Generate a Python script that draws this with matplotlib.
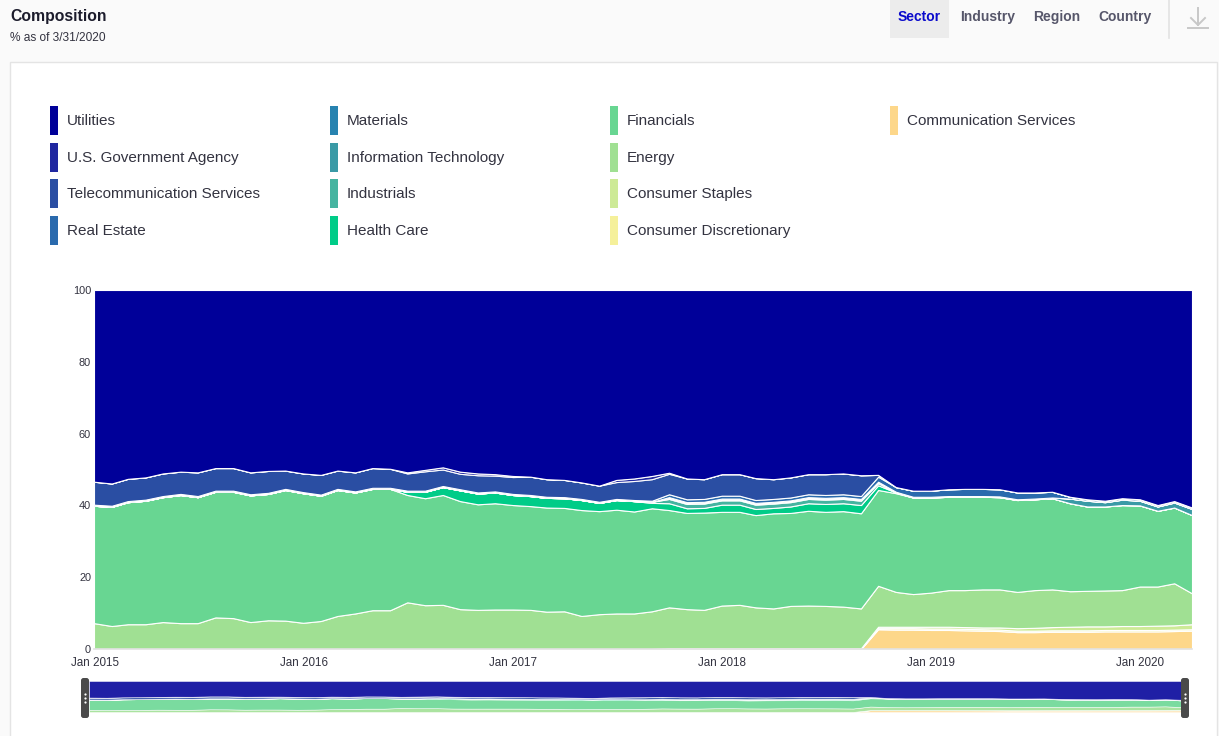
import matplotlib
matplotlib.use("Agg")
import matplotlib.pyplot as plt
from matplotlib.patches import Rectangle, FancyBboxPatch
import pandas as pd

W, H = 1219, 736
plt.rcParams['font.family'] = ['Liberation Sans', 'DejaVu Sans']
NARROW = ['Liberation Sans Narrow', 'Liberation Sans', 'DejaVu Sans']

# month-end points, 12/31/2014 .. 3/31/2020
dates = pd.date_range("2014-12-31", periods=64, freq="ME")

utilities = [
    53.4, 53.9, 52.6, 52.2, 51.1, 50.6, 50.8, 49.6, 49.6, 50.8, 50.4, 50.3,
    51.1, 51.5, 50.3, 50.8, 49.6, 49.8, 50.8, 50.1, 49.4, 50.6, 51.1, 51.3,
    51.8, 52.0, 52.7, 52.9, 53.6, 54.5, 52.9, 52.5, 51.8, 50.9, 52.5, 52.7,
    51.3, 51.3, 52.4, 52.7, 52.2, 51.3, 51.3, 51.1, 51.6, 51.5, 54.9, 55.9,
    55.9, 55.5, 55.4, 55.4, 55.5, 56.4, 56.4, 56.2, 57.6, 58.3, 58.7, 58.0,
    58.3, 59.9, 58.8, 60.6]
gov_agency = [
    0, 0, 0, 0, 0, 0, 0, 0, 0, 0, 0, 0,
    0, 0, 0, 0, 0, 0, 0.3, 0.4, 0.6, 0.6, 0.5, 0.4,
    0.3, 0, 0, 0, 0, 0, 0.6, 0.7, 0.9, 0.3, 0, 0,
    0, 0, 0, 0, 0, 0, 0, 0, 0, 0, 0, 0,
    0, 0, 0, 0, 0, 0, 0, 0, 0, 0, 0, 0,
    0, 0, 0, 0]
telecom = [
    6.4, 6.2, 6.2, 6.2, 6.3, 6.2, 6.6, 6.3, 6.3, 6.1, 6.1, 5.1,
    5.2, 5.5, 5.1, 5.3, 5.5, 5.3, 4.8, 5.4, 4.6, 4.3, 4.8, 4.4,
    4.7, 5.1, 4.9, 4.8, 4.6, 4.5, 4.7, 5.3, 6.0, 5.7, 5.8, 5.5,
    6.0, 6.0, 6.1, 5.5, 5.6, 5.6, 5.8, 5.8, 5.8, 0.5, 0, 0,
    0, 0, 0, 0, 0, 0, 0, 0, 0, 0, 0, 0,
    0, 0, 0, 0]
real_estate = [
    0.3, 0.3, 0.3, 0.3, 0.3, 0.3, 0.3, 0.3, 0.3, 0.3, 0.3, 0.3,
    0.3, 0.3, 0.3, 0.3, 0.3, 0.3, 0.3, 0.3, 0.3, 0.3, 0.3, 0.3,
    0.3, 0.3, 0.3, 0.3, 0.3, 0.3, 0.3, 0.3, 0.3, 0.8, 0.8, 0.8,
    0.8, 0.8, 0.8, 0.8, 0.8, 0.8, 0.8, 0.8, 0.8, 1.4, 1.3, 1.7,
    1.7, 1.9, 2.0, 2.0, 2.0, 1.9, 1.7, 1.6, 0.5, 0.4, 0.4, 0.4,
    0.4, 0.4, 0.4, 0.4]
materials = [
    0, 0, 0, 0, 0, 0, 0, 0, 0, 0, 0, 0,
    0, 0, 0, 0, 0, 0, 0, 0, 0, 0, 0, 0,
    0, 0, 0, 0, 0, 0, 0, 0, 0, 0.2, 0.2, 0.2,
    0.2, 0.2, 0.2, 0.2, 0.2, 0.2, 0.2, 0.2, 0.2, 0, 0, 0,
    0, 0, 0, 0, 0, 0, 0, 0, 0, 0, 0, 0,
    0, 0, 0, 0]
info_tech = [
    0, 0, 0, 0, 0, 0, 0, 0, 0, 0, 0, 0,
    0, 0, 0, 0, 0, 0, 0, 0, 0, 0, 0, 0,
    0, 0, 0, 0, 0, 0, 0, 0, 0, 0.3, 0.3, 0.3,
    0.3, 0.3, 0.3, 0.3, 0.3, 0.3, 0.3, 0.3, 0.3, 0.4, 0.2, 0.2,
    0.2, 0.2, 0.2, 0.2, 0.2, 0.2, 0.2, 0.2, 1.3, 1.6, 1.2, 1.5,
    1.3, 1.2, 1.4, 1.7]
industrials = [
    0, 0, 0, 0, 0, 0, 0, 0, 0, 0, 0, 0,
    0, 0, 0, 0, 0, 0, 0, 0, 0, 0, 0, 0,
    0, 0, 0, 0, 0, 0, 0, 0, 0.3, 1.2, 1.2, 1.2,
    1.2, 1.2, 1.2, 1.2, 1.2, 1.2, 1.2, 1.2, 1.2, 0.6, 0, 0,
    0, 0, 0, 0, 0, 0, 0, 0, 0, 0, 0, 0,
    0, 0, 0, 0]
health_care = [
    0, 0, 0, 0, 0, 0, 0, 0, 0, 0, 0, 0,
    0, 0, 0, 0, 0, 0, 0.9, 1.8, 2.2, 3.0, 3.0, 3.0,
    2.8, 2.8, 2.7, 2.7, 2.8, 2.3, 2.7, 2.9, 1.5, 1.9, 1.3, 1.3,
    2.0, 2.0, 1.7, 1.5, 1.8, 2.1, 2.2, 2.2, 2.3, 1.3, 0.2, 0,
    0, 0, 0, 0, 0, 0, 0, 0, 0, 0, 0, 0,
    0, 0, 0, 0]
financials = [
    32.7, 33.2, 34.0, 34.4, 34.8, 35.7, 35.1, 35.0, 35.2, 35.3, 35.2, 36.4,
    36.1, 34.9, 35.1, 33.7, 33.8, 33.8, 29.9, 29.8, 30.6, 30.1, 29.4, 29.6,
    29.1, 28.9, 29.0, 28.8, 29.5, 28.7, 28.9, 28.4, 28.7, 27.1, 26.8, 27.1,
    26.1, 25.9, 25.7, 26.5, 25.9, 26.4, 26.2, 26.6, 26.5, 26.7, 27.5, 26.9,
    26.5, 26.0, 26.0, 25.8, 25.7, 25.6, 25.3, 25.4, 24.5, 23.5, 23.4, 23.7,
    22.6, 21.1, 21.1, 21.8]
energy = [
    7.2, 6.4, 6.9, 6.9, 7.5, 7.2, 7.2, 8.8, 8.6, 7.5, 8.0, 7.9,
    7.3, 7.8, 9.2, 9.9, 10.8, 10.8, 13.0, 12.2, 12.3, 11.1, 10.9, 11.0,
    11.0, 10.9, 10.4, 10.5, 9.2, 9.7, 9.9, 9.9, 10.5, 11.4, 10.9, 10.7,
    11.9, 12.1, 11.4, 11.1, 11.8, 11.9, 11.8, 11.6, 11.1, 11.4, 9.7, 9.1,
    9.5, 10.2, 10.3, 10.6, 10.6, 10.1, 10.5, 10.5, 9.9, 9.9, 10.0, 10.0,
    11.0, 10.9, 11.7, 8.6]
cons_staples = [
    0, 0, 0, 0, 0, 0, 0, 0, 0, 0, 0, 0,
    0, 0, 0, 0, 0, 0, 0, 0, 0, 0, 0, 0,
    0, 0, 0, 0, 0, 0, 0, 0, 0, 0.2, 0.2, 0.2,
    0.2, 0.2, 0.2, 0.2, 0.2, 0.2, 0.2, 0.2, 0.2, 0.4, 0.4, 0.4,
    0.5, 0.5, 0.5, 0.5, 0.6, 0.7, 0.8, 0.9, 1.0, 1.1, 1.0, 1.1,
    1.1, 1.2, 1.2, 1.4]
cons_disc = [
    0, 0, 0, 0, 0, 0, 0, 0, 0, 0, 0, 0,
    0, 0, 0, 0, 0, 0, 0, 0, 0, 0, 0, 0,
    0, 0, 0, 0, 0, 0, 0, 0, 0, 0, 0, 0,
    0, 0, 0, 0, 0, 0, 0, 0, 0, 0.3, 0.4, 0.4,
    0.4, 0.4, 0.4, 0.4, 0.4, 0.4, 0.4, 0.4, 0.4, 0.4, 0.4, 0.4,
    0.4, 0.4, 0.4, 0.4]
comm_services = [
    0, 0, 0, 0, 0, 0, 0, 0, 0, 0, 0, 0,
    0, 0, 0, 0, 0, 0, 0, 0, 0, 0, 0, 0,
    0, 0, 0, 0, 0, 0, 0, 0, 0, 0, 0, 0,
    0, 0, 0, 0, 0, 0, 0, 0, 0, 5.5, 5.4, 5.4,
    5.3, 5.3, 5.2, 5.1, 5.0, 4.7, 4.7, 4.8, 4.8, 4.8, 4.9, 4.9,
    4.9, 4.9, 5.0, 5.1]

# bottom -> top
stack = [
    ("Communication Services", comm_services, "#fdd78a"),
    ("Consumer Discretionary", cons_disc, "#f5f09a"),
    ("Consumer Staples", cons_staples, "#cdea96"),
    ("Energy", energy, "#a0e093"),
    ("Financials", financials, "#68d692"),
    ("Health Care", health_care, "#00cc88"),
    ("Industrials", industrials, "#45b4a0"),
    ("Information Technology", info_tech, "#3a9aa6"),
    ("Materials", materials, "#2783b0"),
    ("Real Estate", real_estate, "#2a6aad"),
    ("Telecommunication Services", telecom, "#2a4ea3"),
    ("U.S. Government Agency", gov_agency, "#2027a0"),
    ("Utilities", utilities, "#000099"),
]
colors = {name: c for name, _, c in stack}
legend_cols = [
    ["Utilities", "U.S. Government Agency", "Telecommunication Services", "Real Estate"],
    ["Materials", "Information Technology", "Industrials", "Health Care"],
    ["Financials", "Energy", "Consumer Staples", "Consumer Discretionary"],
    ["Communication Services"],
]
tick_dates = pd.to_datetime(["2015-01-01", "2016-01-01", "2017-01-01",
                             "2018-01-01", "2019-01-01", "2020-01-01"])
tick_labels = ["Jan 2015", "Jan 2016", "Jan 2017", "Jan 2018", "Jan 2019", "Jan 2020"]
tabs = [("Sector", 919), ("Industry", 988), ("Region", 1057), ("Country", 1125)]

fig = plt.figure(figsize=(W / 100, H / 100), dpi=100, facecolor="#fafafa")

# background layer in pixel coords
bg = fig.add_axes([0, 0, 1, 1], zorder=0)
bg.set_xlim(0, W)
bg.set_ylim(H, 0)
bg.axis("off")
bg.add_patch(Rectangle((10, 62), 1207, 700, facecolor="white", edgecolor="#e4e4e4", lw=1))

bg.text(10, 16, "Composition", fontsize=11.3, fontweight="bold", color="#1c1c2c", va="center")
bg.text(10, 38, "% as of 3/31/2020", fontsize=8.6, color="#333340", va="center")

bg.add_patch(Rectangle((890, 0), 59, 38, facecolor="#ececec", edgecolor="none"))
for label, xc in tabs:
    bg.text(xc, 17, label, fontsize=10, fontweight="bold", ha="center", va="center",
            color="#0a0acc" if label == "Sector" else "#56566a")
bg.plot([1169, 1169], [0, 38], color="#e2e2e2", lw=1.2)
bg.plot([1198, 1198], [8, 25], color="#c8c8c8", lw=1.4)
bg.plot([1191, 1198, 1205], [18, 25, 18], color="#c8c8c8", lw=1.4)
bg.plot([1188, 1208], [28, 28], color="#c8c8c8", lw=1.4)

for ci, col in enumerate(legend_cols):
    x0 = 50 + 280 * ci
    for ri, name in enumerate(col):
        y0 = 106 + 36.7 * ri
        bg.add_patch(Rectangle((x0, y0), 7.5, 29, facecolor=colors[name], edgecolor="none"))
        bg.text(x0 + 17, y0 + 15, name, fontsize=11, family=NARROW, color="#333340", va="center")

# main chart
ax = fig.add_axes([94 / W, 1 - 649 / H, 1098 / W, 359 / H], zorder=2)
ax.stackplot(dates.values, *[s for _, s, _ in stack], colors=[c for _, _, c in stack],
             edgecolor="white", linewidth=0.8)
ax.set_xlim(dates.values[0], dates.values[-1])
ax.set_ylim(0, 100)
ax.set_facecolor("white")
for side in ["top", "right", "left"]:
    ax.spines[side].set_visible(False)
ax.spines["bottom"].set_color("#e2e2e2")
ax.spines["bottom"].set_linewidth(1.2)
ax.set_yticks([0, 20, 40, 60, 80, 100])
ax.set_xticks(tick_dates.values)
ax.set_xticklabels(tick_labels)
ax.tick_params(axis="y", length=0, pad=2, labelsize=7.9, labelcolor="#333340")
ax.tick_params(axis="x", length=0, pad=5.5, labelsize=8.4, labelcolor="#333340")

# navigator
nav = fig.add_axes([89 / W, 1 - 712 / H, 1094 / W, 31 / H], zorder=2)
nav.stackplot(dates.values, *[s for _, s, _ in stack], colors=[c for _, _, c in stack],
              edgecolor="white", linewidth=0.4, alpha=0.88)
nav.set_xlim(dates.values[0], dates.values[-1])
nav.set_ylim(0, 100)
nav.axis("off")

top = fig.add_axes([0, 0, 1, 1], zorder=3)
top.set_xlim(0, W)
top.set_ylim(H, 0)
top.axis("off")
top.patch.set_alpha(0)
for hx in [85, 1185]:
    top.add_patch(FancyBboxPatch((hx - 4, 678), 8, 40, boxstyle="round,pad=0,rounding_size=2.5",
                                 facecolor="#4a4a4a", edgecolor="none"))
    top.plot([hx] * 3, [694, 698, 702], "o", color="white", ms=1.6, mec="none")

fig.savefig("out.png", dpi=100, facecolor=fig.get_facecolor())
